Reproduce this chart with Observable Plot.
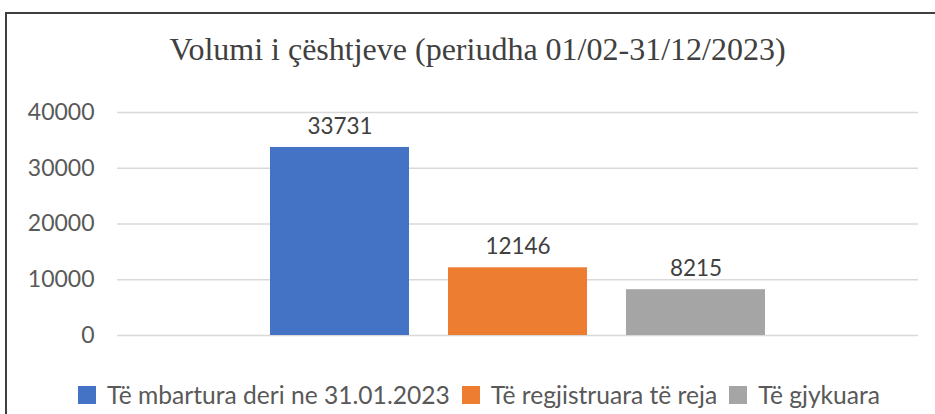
<!DOCTYPE html>
<html>
<head>
<meta charset="utf-8">
<script src="https://cdn.jsdelivr.net/npm/d3@7"></script>
<script src="https://cdn.jsdelivr.net/npm/@observablehq/plot@0.6"></script>
<style>
  html, body { margin: 0; padding: 0; background: #fff; }
  body { width: 935px; height: 414px; overflow: hidden; position: relative; font-family: Lato, sans-serif; }
  #frame { position: absolute; left: 5px; top: 12px; width: 1000px; height: 500px; border: 2px solid #3f3f3f; box-sizing: border-box; pointer-events: none; }
  #title { height: 95px; box-sizing: border-box; padding-top: 31px; padding-left: 20px; text-align: center;
           font-family: "Liberation Serif", "Times New Roman", serif; font-size: 32px; line-height: 36px; color: #404040; }
  #chart { height: 265px; }
  #chart svg { display: block; }
  #legend { height: 54px; box-sizing: border-box; padding-top: 15px; padding-left: 78px; display: flex; align-items: center;
            font-family: Lato, sans-serif; font-size: 24.6px; line-height: 26px; color: #595959; white-space: nowrap; }
  .sw { display: inline-block; width: 18px; height: 18px; margin-right: 11px; flex: none; }
  .item { display: flex; align-items: center; margin-right: 12px; }
</style>
</head>
<body>
<div id="title">Volumi i çështjeve (periudha 01/02-31/12/2023)</div>
<div id="chart"></div>
<div id="legend"></div>
<div id="frame"></div>
<script>
const categories = ["Të mbartura deri ne 31.01.2023", "Të regjistruara të reja", "Të gjykuara"];
const values = [33731, 12146, 8215];
const colors = ["#4472C4", "#ED7D31", "#A5A5A5"];
const yTicks = [0, 10000, 20000, 30000, 40000];

const data = categories.map((c, i) => ({cat: c, value: values[i]}));

const chart = Plot.plot({
  width: 935,
  height: 265,
  marginTop: 17,
  marginBottom: 25,
  marginLeft: 117,
  marginRight: 17,
  style: { fontFamily: "Lato, sans-serif", fontSize: "23px", color: "#595959", background: "transparent" },
  x: { domain: categories, paddingInner: 0.218, paddingOuter: 0.8465, axis: null },
  y: { domain: [0, 40000], label: null },
  color: { domain: categories, range: colors },
  marks: [
    Plot.gridY(yTicks, { stroke: "#d9d9d9", strokeOpacity: 1, strokeWidth: 1.5 }),
    Plot.axisY(yTicks, { tickSize: 0, tickPadding: 23, tickFormat: d => String(d), fill: "#595959", fontSize: 23, label: null }),
    Plot.barY(data, { x: "cat", y: "value", fill: "cat" }),
    Plot.text(data, { x: "cat", y: "value", text: d => String(d.value), dy: -21, fontSize: 22.5, fill: "#404040" })
  ]
});
document.getElementById("chart").appendChild(chart);

const legend = document.getElementById("legend");
categories.forEach((c, i) => {
  const item = document.createElement("span");
  item.className = "item";
  const sw = document.createElement("span");
  sw.className = "sw";
  sw.style.background = colors[i];
  const t = document.createElement("span");
  t.textContent = c;
  item.appendChild(sw);
  item.appendChild(t);
  legend.appendChild(item);
});
</script>
</body>
</html>
